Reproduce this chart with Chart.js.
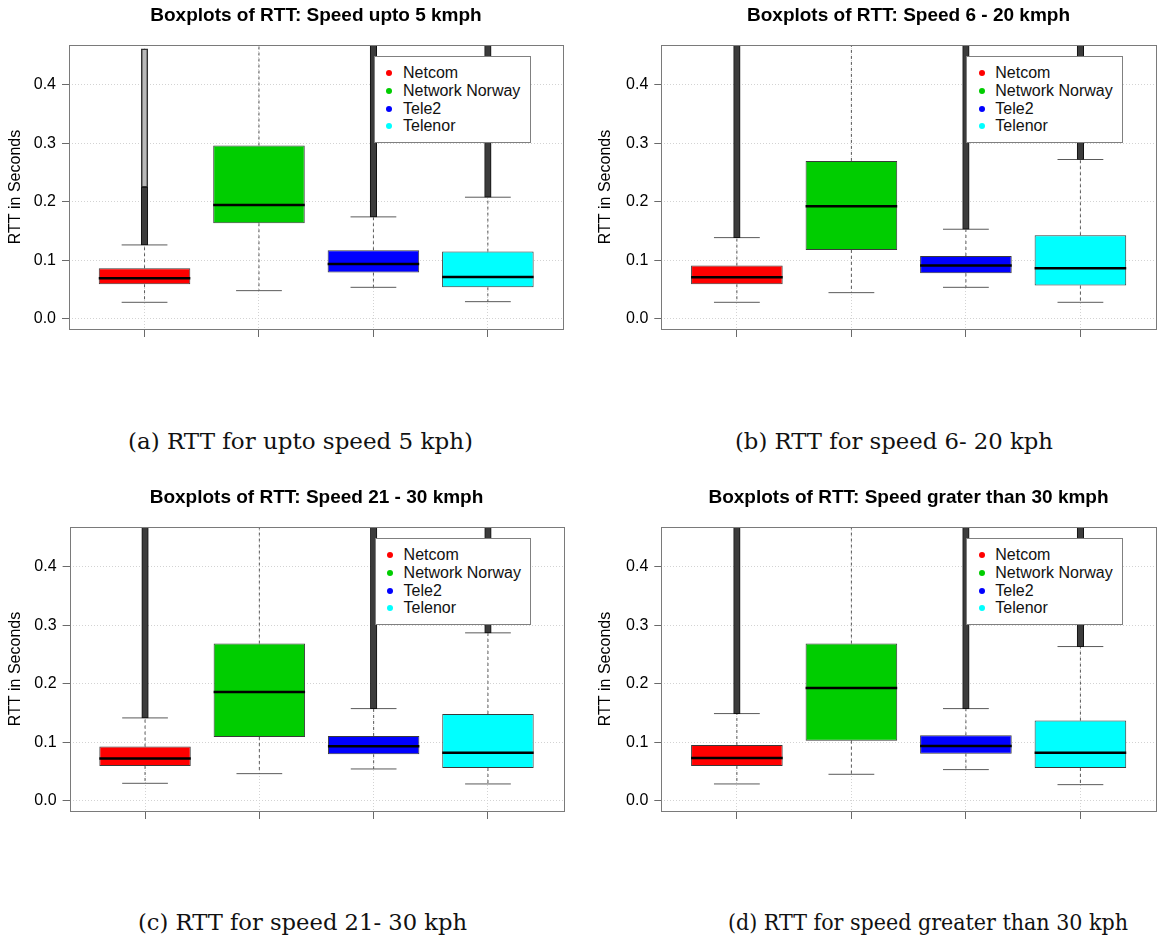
<!DOCTYPE html>
<html>
<head>
<meta charset="utf-8">
<script src="https://cdn.jsdelivr.net/npm/chart.js@4.4.1/dist/chart.umd.min.js"></script>
<style>
  html, body { margin: 0; padding: 0; background: #fff; width: 1157px; height: 942px; overflow: hidden; position: relative; }
  canvas.panel { position: absolute; }
  .legend { position: absolute; background: #fff; border: 1.5px solid #808080; box-sizing: border-box;
            font: 16px "Liberation Sans", Arial, sans-serif; color: #111; }
  .legend .row { position: absolute; height: 18px; line-height: 18px; white-space: nowrap; }
  .legend .dot { position: absolute; width: 6px; height: 6px; border-radius: 50%; }
  .caption { position: absolute; font: 23px "DejaVu Serif", serif; line-height: 23px; white-space: nowrap; color: #111;
             transform-origin: 0 50%; }
</style>
</head>
<body>
<canvas id="cA" class="panel"></canvas>
<canvas id="cB" class="panel"></canvas>
<canvas id="cC" class="panel"></canvas>
<canvas id="cD" class="panel"></canvas>

<script>
// ---------------- data ----------------
const categories = ['Netcom', 'Network Norway', 'Tele2', 'Telenor'];
const boxColors = ['#FF0000', '#00CD00', '#0000FF', '#00FFFF'];
const yTickValues = [0.0, 0.1, 0.2, 0.3, 0.4];
const panelTitles = [
  'Boxplots of RTT: Speed upto 5 kmph',
  'Boxplots of RTT: Speed 6 - 20 kmph',
  'Boxplots of RTT: Speed 21 - 30 kmph',
  'Boxplots of RTT: Speed grater than 30 kmph'
];
const captions = [
  '(a) RTT for upto speed 5 kph)',
  '(b) RTT for speed 6- 20 kph',
  '(c) RTT for speed 21- 30 kph',
  '(d) RTT for speed greater than 30 kph'
];
const yAxisTitle = 'RTT in Seconds';

// Panel (a): speed up to 5 kmph
const lowWhiskerA  = [0.0285, 0.0484, 0.0541, 0.0296];
const q1A          = [0.0593, 0.1635, 0.0792, 0.0541];
const medianA      = [0.0695, 0.1949, 0.0940, 0.0718];
const q3A          = [0.0866, 0.2963, 0.1174, 0.1151];
const highWhiskerA = [0.1265, 0.5000, 0.1744, 0.2080];
const outDenseTopA = [0.2250, null,   0.5000, 0.5000];
const outTopA      = [0.4615, null,   0.5000, 0.5000];

// Panel (b): speed 6 - 20 kmph
const lowWhiskerB  = [0.0285, 0.0450, 0.0541, 0.0285];
const q1B          = [0.0593, 0.1180, 0.0780, 0.0570];
const medianB      = [0.0712, 0.1926, 0.0912, 0.0866];
const q3B          = [0.0912, 0.2700, 0.1077, 0.1430];
const highWhiskerB = [0.1390, 0.5000, 0.1533, 0.2724];
const outDenseTopB = [0.5000, null,   0.5000, 0.5000];
const outTopB      = [0.5000, null,   0.5000, 0.5000];

// Panel (c): speed 21 - 30 kmph
const lowWhiskerC  = [0.0302, 0.0467, 0.0547, 0.0291];
const q1C          = [0.0598, 0.1094, 0.0798, 0.0564];
const medianC      = [0.0724, 0.1863, 0.0934, 0.0826];
const q3C          = [0.0929, 0.2689, 0.1111, 0.1487];
const highWhiskerC = [0.1419, 0.5000, 0.1578, 0.2872];
const outDenseTopC = [0.5000, null,   0.5000, 0.5000];
const outTopC      = [0.5000, null,   0.5000, 0.5000];

// Panel (d): speed greater than 30 kmph
const lowWhiskerD  = [0.0291, 0.0456, 0.0536, 0.0279];
const q1D          = [0.0598, 0.1031, 0.0809, 0.0564];
const medianD      = [0.0735, 0.1932, 0.0940, 0.0826];
const q3D          = [0.0957, 0.2689, 0.1123, 0.1373];
const highWhiskerD = [0.1493, 0.5000, 0.1578, 0.2638];
const outDenseTopD = [0.5000, null,   0.5000, 0.5000];
const outTopD      = [0.5000, null,   0.5000, 0.5000];

// ---------------- layout / style ----------------
const SANS = '"Liberation Sans", Arial, Helvetica, sans-serif';
Chart.defaults.font.family = SANS;
Chart.defaults.color = '#000';

const Y_MIN = -0.0171, Y_MAX = 0.468;
const X_MIN = 0.34, X_MAX = 4.66;
const BOX_HALF = 0.4, CAP_HALF = 0.2;

const panels = [
  { id: 'cA', left: 0,   top: 0,   width: 632, height: 345, yAxisW: 69,   rightW: 68.6,
    title: panelTitles[0], lw: lowWhiskerA, q1: q1A, med: medianA, q3: q3A, uw: highWhiskerA, od: outDenseTopA, ot: outTopA,
    caption: captions[0], capLeft: 128, capTop: 430, capWidth: 345 },
  { id: 'cB', left: 590, top: 0,   width: 637, height: 345, yAxisW: 71.3, rightW: 71,
    title: panelTitles[1], lw: lowWhiskerB, q1: q1B, med: medianB, q3: q3B, uw: highWhiskerB, od: outDenseTopB, ot: outTopB,
    caption: captions[1], capLeft: 735, capTop: 430, capWidth: 318 },
  { id: 'cC', left: 0,   top: 482, width: 633, height: 345, yAxisW: 69.6, rightW: 69.6,
    title: panelTitles[2], lw: lowWhiskerC, q1: q1C, med: medianC, q3: q3C, uw: highWhiskerC, od: outDenseTopC, ot: outTopC,
    caption: captions[2], capLeft: 138, capTop: 911, capWidth: 329 },
  { id: 'cD', left: 590, top: 482, width: 637, height: 345, yAxisW: 71.3, rightW: 71,
    title: panelTitles[3], lw: lowWhiskerD, q1: q1D, med: medianD, q3: q3D, uw: highWhiskerD, od: outDenseTopD, ot: outTopD,
    caption: captions[3], capLeft: 728, capTop: 911, capWidth: 400 }
];

const framePlugin = {
  id: 'frame',
  afterDraw(chart) {
    const { ctx, chartArea: a } = chart;
    ctx.save();
    ctx.strokeStyle = '#7a7a7a';
    ctx.lineWidth = 1;
    ctx.strokeRect(Math.round(a.left) + 0.5, Math.round(a.top) + 0.5,
                   Math.round(a.right - a.left), Math.round(a.bottom - a.top));
    ctx.restore();
  }
};

function segData(pairsFn) {
  const out = [];
  categories.forEach((c, i) => {
    pairsFn(i).forEach(seg => {
      if (seg == null) return;
      out.push(seg[0], seg[1], { x: seg[1].x, y: null });
    });
  });
  return out;
}

function buildPanel(p) {
  const canvas = document.getElementById(p.id);
  canvas.width = p.width; canvas.height = p.height;
  canvas.style.left = p.left + 'px'; canvas.style.top = p.top + 'px';
  canvas.style.width = p.width + 'px'; canvas.style.height = p.height + 'px';

  const whiskers = segData(i => [
    [{ x: i + 1, y: p.q1[i] }, { x: i + 1, y: p.lw[i] }],
    [{ x: i + 1, y: p.q3[i] }, { x: i + 1, y: p.uw[i] }]
  ]);
  const caps = segData(i => [
    [{ x: i + 1 - CAP_HALF, y: p.lw[i] }, { x: i + 1 + CAP_HALF, y: p.lw[i] }],
    [{ x: i + 1 - CAP_HALF, y: p.uw[i] }, { x: i + 1 + CAP_HALF, y: p.uw[i] }]
  ]);
  const medians = segData(i => [
    [{ x: i + 1 - BOX_HALF, y: p.med[i] }, { x: i + 1 + BOX_HALF, y: p.med[i] }]
  ]);
  const boxes = categories.map((c, i) => ({ x: i + 1, y: [p.q1[i], p.q3[i]] }));
  const dense = [], sparse = [];
  categories.forEach((c, i) => {
    if (p.ot[i] == null) return;
    dense.push({ x: i + 1, y: [p.uw[i], p.od[i]] });
    if (p.ot[i] > p.od[i]) sparse.push({ x: i + 1, y: [p.od[i], p.ot[i]] });
  });

  new Chart(canvas, {
    type: 'bar',
    data: {
      datasets: [
        { type: 'line', label: 'whiskers', data: whiskers, borderColor: '#5a5a5a', borderWidth: 1,
          borderDash: [3, 3], pointRadius: 0, spanGaps: false, order: 6, clip: 0 },
        { type: 'line', label: 'caps', data: caps, borderColor: '#5a5a5a', borderWidth: 1,
          pointRadius: 0, spanGaps: false, order: 5, clip: 0 },
        { type: 'bar', label: 'boxes', data: boxes, backgroundColor: boxColors, borderColor: '#3a3a3a',
          borderWidth: 1, borderSkipped: false, barPercentage: 0.8, categoryPercentage: 1,
          grouped: false, order: 4, clip: 0 },
        { type: 'line', label: 'medians', data: medians, borderColor: '#000', borderWidth: 2.5,
          pointRadius: 0, spanGaps: false, order: 3, clip: 0 },
        { type: 'bar', label: 'outliers', data: dense, backgroundColor: '#3c3c3c', borderColor: '#111',
          borderWidth: 1, borderSkipped: false, barThickness: 6.5, grouped: false, order: 2, clip: 0 },
        { type: 'bar', label: 'outliers (sparse)', data: sparse, backgroundColor: '#b8b8b8', borderColor: '#333',
          borderWidth: 1.5, borderSkipped: false, barThickness: 6.5, grouped: false, order: 1, clip: 0 }
      ]
    },
    options: {
      responsive: false,
      animation: false,
      events: [],
      devicePixelRatio: 1,
      layout: { padding: 0 },
      plugins: {
        legend: { display: false },
        tooltip: { enabled: false },
        title: {
          display: true, text: p.title, color: '#000',
          font: { size: 19, weight: 'bold', family: SANS, lineHeight: 1.2 },
          padding: { top: 4.6, bottom: 17.6 }
        }
      },
      scales: {
        x: {
          type: 'linear', min: X_MIN, max: X_MAX, z: 1, offset: false,
          afterBuildTicks: s => { s.ticks = categories.map((c, i) => ({ value: i + 1 })); },
          afterFit: s => { s.height = 16; },
          ticks: { display: false },
          grid: { offset: false, color: '#d3d3d3', lineWidth: 1, drawTicks: true, tickLength: 8, tickColor: '#6a6a6a', tickWidth: 1 },
          border: { display: false, dash: [1, 2] }
        },
        y: {
          type: 'linear', position: 'left', min: Y_MIN, max: Y_MAX, z: 1,
          afterBuildTicks: s => { s.ticks = yTickValues.map(v => ({ value: v })); },
          afterFit: s => { s.width = p.yAxisW; },
          ticks: { callback: v => Number(v).toFixed(1), font: { size: 16, family: SANS }, color: '#000', padding: 6 },
          grid: { color: '#d3d3d3', lineWidth: 1, drawTicks: true, tickLength: 7, tickColor: '#6a6a6a', tickWidth: 1 },
          border: { display: false, dash: [1, 2] },
          title: { display: true, text: yAxisTitle, color: '#000', font: { size: 16, family: SANS, lineHeight: 1.2 },
                   padding: { top: 6, bottom: 0 } }
        },
        // empty right-hand margin so the title is centred over the plot region
        yRight: {
          type: 'linear', position: 'right', display: true, min: 0, max: 1,
          afterFit: s => { s.width = p.rightW; },
          ticks: { display: false },
          grid: { display: false, drawOnChartArea: false },
          border: { display: false }
        }
      }
    },
    plugins: [framePlugin]
  });

  // legend (inside the plot, top right)
  const lg = document.createElement('div');
  lg.className = 'legend';
  lg.style.left = (p.left + p.yAxisW + 305) + 'px';
  lg.style.top = (p.top + 45 + 11) + 'px';
  lg.style.width = '156.5px';
  lg.style.height = '86.5px';
  categories.forEach((c, i) => {
    const dot = document.createElement('div');
    dot.className = 'dot';
    dot.style.background = boxColors[i];
    dot.style.left = (14.3 - 3) + 'px';
    dot.style.top = (16.3 + 17.6 * i - 3) + 'px';
    lg.appendChild(dot);
    const row = document.createElement('div');
    row.className = 'row';
    row.textContent = c;
    row.style.left = '28px';
    row.style.top = (16.3 + 17.6 * i - 9) + 'px';
    lg.appendChild(row);
  });
  document.body.appendChild(lg);

  const cap = document.createElement('div');
  cap.className = 'caption';
  cap.textContent = p.caption;
  cap.style.left = p.capLeft + 'px';
  cap.style.top = p.capTop + 'px';
  document.body.appendChild(cap);
  const w = cap.getBoundingClientRect().width;
  if (w > 0) cap.style.transform = 'scaleX(' + (p.capWidth / w).toFixed(4) + ')';
}

panels.forEach(buildPanel);
</script>
</body>
</html>
